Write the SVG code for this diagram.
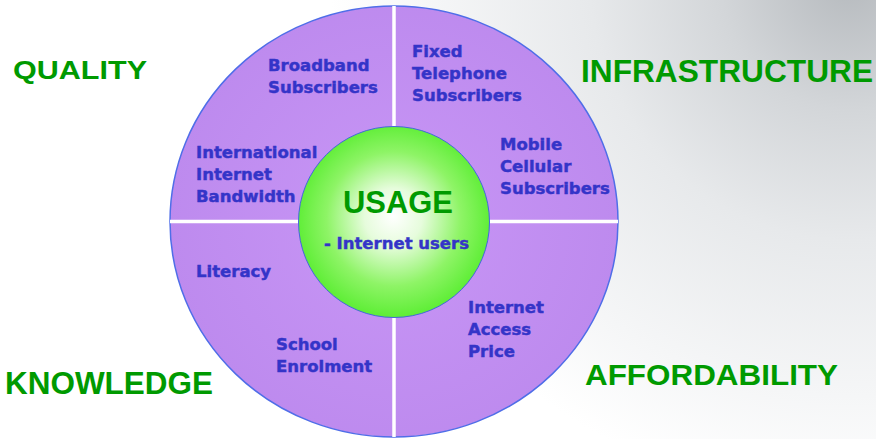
<svg xmlns="http://www.w3.org/2000/svg" width="876" height="439" viewBox="0 0 876 439">
  <defs>
    <radialGradient id="bg" cx="850" cy="-20" r="520" gradientUnits="userSpaceOnUse">
      <stop offset="0" stop-color="#b6babe"/>
      <stop offset="0.25" stop-color="#d3d6d9"/>
      <stop offset="0.5" stop-color="#e7e9eb"/>
      <stop offset="0.8" stop-color="#f5f6f7"/>
      <stop offset="1" stop-color="#ffffff"/>
    </radialGradient>
    <radialGradient id="ringfill" cx="394" cy="222" r="230" gradientUnits="userSpaceOnUse">
      <stop offset="0" stop-color="#c896f6"/>
      <stop offset="1" stop-color="#bd8aee"/>
    </radialGradient>
    <radialGradient id="core" cx="394" cy="220" r="96" fx="393" fy="216" gradientUnits="userSpaceOnUse">
      <stop offset="0" stop-color="#ffffff"/>
      <stop offset="0.3" stop-color="#e6fcdc"/>
      <stop offset="0.7" stop-color="#8ef466"/>
      <stop offset="1" stop-color="#60ee38"/>
    </radialGradient>
  </defs>
  <style>
    .cat { font-family: "Liberation Sans", Arial, sans-serif; font-weight: bold; fill: #009a00; }
    .item { font-family: "DejaVu Sans", Verdana, sans-serif; font-weight: bold; font-size: 16.5px; fill: #3434c8; stroke: #3434c8; stroke-width: 0.45; }
    .divider { stroke: #ffffff; stroke-width: 3.5; }
  </style>
  <rect width="876" height="439" fill="#ffffff"/>
  <rect width="876" height="439" fill="url(#bg)"/>

  <g id="ring">
    <ellipse cx="394" cy="221.5" rx="224" ry="215.5" fill="url(#ringfill)" stroke="#4f6ee8" stroke-width="1.5"/>
    <line class="divider" x1="394" y1="6" x2="394" y2="437"/>
    <line class="divider" x1="170" y1="221.5" x2="618" y2="221.5"/>
  </g>

  <g id="usage">
    <circle cx="394" cy="222" r="95.5" fill="url(#core)" stroke="#4466dd" stroke-width="1"/>
    <text class="cat" x="343" y="213" font-size="31.5" textLength="110" lengthAdjust="spacingAndGlyphs">USAGE</text>
    <text class="item" x="324" y="249">- Internet users</text>
  </g>

  <g id="broadband">
    <text class="item" x="268" y="71">Broadband</text>
    <text class="item" x="268" y="93">Subscribers</text>
  </g>
  <g id="fixed-telephone">
    <text class="item" x="412" y="57">Fixed</text>
    <text class="item" x="412" y="79">Telephone</text>
    <text class="item" x="412" y="101">Subscribers</text>
  </g>
  <g id="mobile-cellular">
    <text class="item" x="500" y="150">Mobile</text>
    <text class="item" x="500" y="172">Cellular</text>
    <text class="item" x="500" y="194">Subscribers</text>
  </g>
  <g id="bandwidth">
    <text class="item" x="196" y="158">International</text>
    <text class="item" x="196" y="180">Internet</text>
    <text class="item" x="196" y="202">Bandwidth</text>
  </g>
  <g id="literacy">
    <text class="item" x="196" y="277">Literacy</text>
  </g>
  <g id="school">
    <text class="item" x="276" y="350">School</text>
    <text class="item" x="276" y="372">Enrolment</text>
  </g>
  <g id="price">
    <text class="item" x="468" y="313">Internet</text>
    <text class="item" x="468" y="335">Access</text>
    <text class="item" x="468" y="357">Price</text>
  </g>

  <g id="quality">
    <text class="cat" x="13" y="78.5" font-size="26" textLength="134" lengthAdjust="spacingAndGlyphs">QUALITY</text>
  </g>
  <g id="infrastructure">
    <text class="cat" x="581" y="81.5" font-size="31.5" textLength="292" lengthAdjust="spacingAndGlyphs">INFRASTRUCTURE</text>
  </g>
  <g id="knowledge">
    <text class="cat" x="5" y="394" font-size="31.5" textLength="208" lengthAdjust="spacingAndGlyphs">KNOWLEDGE</text>
  </g>
  <g id="affordability">
    <text class="cat" x="585" y="384.5" font-size="30" textLength="253" lengthAdjust="spacingAndGlyphs">AFFORDABILITY</text>
  </g>
</svg>
